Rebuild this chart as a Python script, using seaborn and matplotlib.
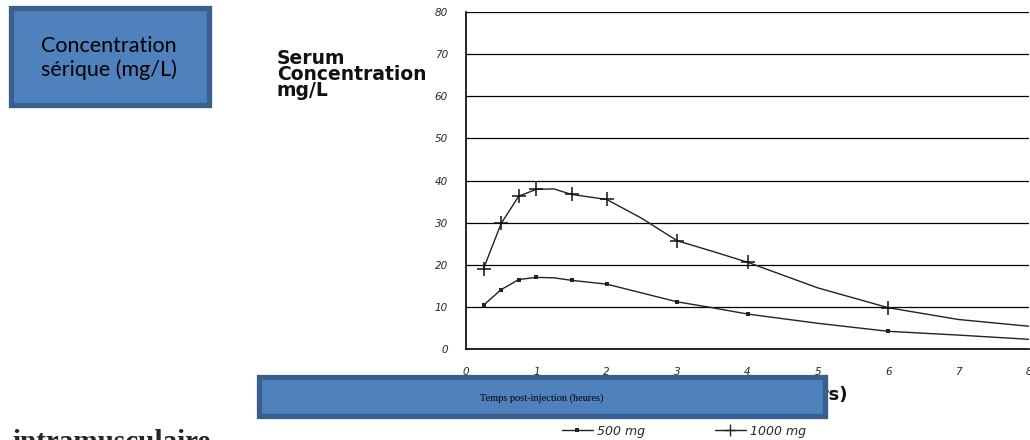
import matplotlib
matplotlib.use("Agg")
import matplotlib.pyplot as plt
import seaborn as sns
import pandas as pd
from matplotlib.lines import Line2D
from matplotlib.patches import Rectangle

# temps (heures) et concentrations
temps = [0.25, 0.5, 0.75, 1, 1.25, 1.5, 2, 2.5, 3, 3.5, 4, 5, 6, 7, 8]
conc_500 = [10.4, 14.1, 16.5, 17.0, 16.9, 16.3, 15.4, 13.3, 11.2, 9.8, 8.3, 6.1, 4.2, 3.3, 2.3]
conc_1000 = [19.1, 29.8, 36.3, 37.9, 38.0, 36.7, 35.5, 31.0, 25.7, 23.2, 20.6, 14.5, 9.8, 7.0, 5.4]
marques = [0, 1, 2, 3, 5, 6, 8, 10, 12]  # points mesurés (avec symbole)

df = pd.DataFrame({"Temps": temps, "500 mg": conc_500, "1000 mg": conc_1000})

sns.set_style("white")
fig = plt.figure(figsize=(10.3, 4.4), dpi=100)
ax = fig.add_axes([0.4524, 0.2068, 0.5467, 0.7659])

sns.lineplot(x="Temps", y="500 mg", data=df, ax=ax, color="#222222", linewidth=1,
             marker="s", markersize=2.5, markevery=marques, markeredgewidth=0)
sns.lineplot(x="Temps", y="1000 mg", data=df, ax=ax, color="#222222", linewidth=1,
             marker="+", markersize=10, markevery=marques, markeredgewidth=1.1,
             markeredgecolor="#111111")

ax.set_xlim(0, 8)
ax.set_ylim(0, 80)
ax.set_xticks(range(0, 9))
ax.set_yticks(range(0, 81, 10))
ax.yaxis.grid(True, color="black", linewidth=0.9)
ax.set_axisbelow(True)
for s in ["top", "right"]:
    ax.spines[s].set_visible(False)
for s in ["left", "bottom"]:
    ax.spines[s].set_color("black")
    ax.spines[s].set_linewidth(1.2)
ax.tick_params(axis="both", direction="out", length=8, width=0.9, color="black",
               labelsize=7.5, pad=5)
for lab in ax.get_xticklabels() + ax.get_yticklabels():
    lab.set_fontstyle("italic")
    lab.set_family("DejaVu Sans")
ax.set_xlabel("")
ax.set_ylabel("")

# titres d'axe d'origine
fig.text(277 / 1030, 1 - 49 / 440, "Serum\nConcentration\nmg/L", fontsize=13.5, fontweight="bold",
         family="DejaVu Sans", va="top", ha="left", linespacing=0.8, color="#111111")
fig.text(848 / 1030, 1 - 395 / 440, "Time (hours)", fontsize=13, fontweight="bold",
         family="DejaVu Sans", ha="right", va="center", color="#111111")

# encadré bleu en haut à gauche
fig.patches.append(Rectangle((11 / 1030, 1 - 105 / 440), 198 / 1030, 97 / 440,
                             transform=fig.transFigure, facecolor="#4F81BD",
                             edgecolor="#3A5F8F", linewidth=3.8))
fig.text(109 / 1030, 1 - 58 / 440, "Concentration\nsérique (mg/L)", fontsize=15.5,
         family="Lato", ha="center", va="center", color="black", linespacing=1.25)

# encadré bleu en bas (masque le titre anglais)
fig.patches.append(Rectangle((259 / 1030, 1 - 416 / 440), 566 / 1030, 39 / 440,
                             transform=fig.transFigure, facecolor="#4F81BD",
                             edgecolor="#3A5F8F", linewidth=3.8, zorder=5))
fig.text(542 / 1030, 1 - 398 / 440, "Temps post-injection (heures)", fontsize=7.5,
         family="Liberation Serif", ha="center", va="center", color="black", zorder=6)

# légende
poignees = [
    Line2D([], [], color="#222222", linewidth=1, marker="s", markersize=2.5, markeredgewidth=0),
    Line2D([], [], color="#222222", linewidth=1, marker="+", markersize=8, markeredgewidth=1),
]
fig.legend(poignees, ["500 mg", "1000 mg"], loc="center", ncol=2,
           bbox_to_anchor=(0.6636, 0.02), frameon=False, handlelength=2.5,
           handletextpad=0.3, columnspacing=5.6,
           prop={"family": "DejaVu Sans", "style": "italic", "size": 9})

fig.text(12 / 1030, -10 / 440, "intramusculaire", fontsize=21, fontweight="bold",
         family="Liberation Serif", ha="left", va="baseline")

fig.savefig("out.png", dpi=100)
